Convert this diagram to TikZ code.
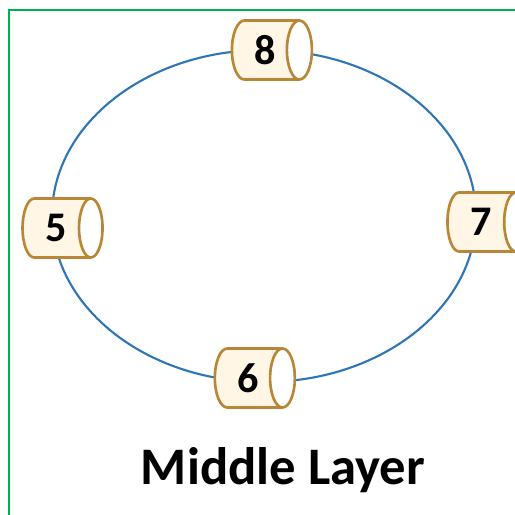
\documentclass[tikz,border=0pt]{standalone}
\usepackage{fontspec}
\setmainfont{Carlito}
\usepackage{tikz}
\usetikzlibrary{shapes.geometric}
\definecolor{ringBlue}{RGB}{46,117,182}
\definecolor{frameGreen}{RGB}{0,176,80}
\definecolor{diskBrown}{RGB}{184,134,52}
\definecolor{diskCream}{RGB}{255,246,230}

\begin{document}
\begin{tikzpicture}
		\useasboundingbox (0,0) rectangle (10.3,-10.3);
		
		% Frame
		\draw [frameGreen, line width=1.2pt] (0.18,-10.3) -- (0.18,-0.2) -- (10.3,-0.2);
		
		% Ring
		\draw [ringBlue, line width=1.2pt] (5.28,-4.32) ellipse (4.24 and 3.32);
		
		% Disks on the ring
		\begin{scope}[every node/.style={cylinder, shape aspect=0.85, draw=diskBrown, line width=1.5pt,
				cylinder uses custom fill, cylinder body fill=diskCream, cylinder end fill=white,
				minimum height=1.6cm, minimum width=1.18cm, inner sep=0pt,
				font=\fontsize{24}{24}\selectfont\bfseries}]
			\node (8) at (5.3,-1.0) {8\hspace{0.25cm}};
			\node (5) at (1.12,-4.56) {5\hspace{0.25cm}};
			\node (7) at (9.62,-4.44) {7\hspace{0.25cm}};
			\node (6) at (4.96,-7.56) {6\hspace{0.25cm}};
		\end{scope}
		
		% Layer name
		\node (name) at (5.66,-9.4) [font=\fontsize{30}{30}\selectfont\bfseries] {Middle Layer};
	\end{tikzpicture}
\end{document}
